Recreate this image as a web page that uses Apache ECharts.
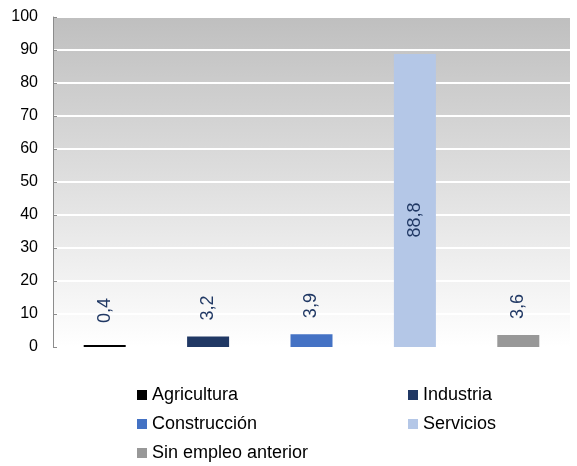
<!DOCTYPE html>
<html>
<head>
<meta charset="utf-8">
<script src="https://cdn.jsdelivr.net/npm/echarts@6/dist/echarts.min.js"></script>
<style>
  html, body { margin: 0; padding: 0; background: #fff; }
  #chart { width: 577px; height: 466px; }
</style>
</head>
<body>
<div id="chart"></div>
<script>
// Datos del gráfico
const sectores = ["Agricultura", "Industria", "Construcción", "Servicios", "Sin empleo anterior"];
const valores = [0.4, 3.2, 3.9, 88.8, 3.6];
const colores = ["#000000", "#203864", "#4472c4", "#b4c7e7", "#989898"];
const ticksY = [0, 10, 20, 30, 40, 50, 60, 70, 80, 90, 100];

const fuente = "'Liberation Sans', Arial, sans-serif";
const chart = echarts.init(document.getElementById("chart"));

// Etiqueta de cada barra (la de Servicios va dentro de la barra)
const etiqueta = (i) => {
    const base = {
        show: true,
        rotate: 90,
        color: "#203864",
        fontSize: 18,
        fontFamily: fuente,
        formatter: (p) => p.value.toFixed(1).replace(".", ","),
    };
    if (valores[i] > 50) {
        return { ...base, position: ["50%", 166], align: "center", verticalAlign: "middle" };
    }
    return { ...base, position: "top", distance: valores[i] < 1 ? 22 : 16, align: "left", verticalAlign: "middle" };
};

const series = sectores.map((nombre, i) => ({
    name: nombre,
    type: "bar",
    stack: "total",
    barWidth: 42,
    barMinHeight: 2,
    itemStyle: { color: colores[i] },
    label: etiqueta(i),
    data: valores.map((v, j) => (j === i ? v : "-")),
}));

// Dos columnas de leyenda
const leyenda = (datos, left) => ({
    data: datos,
    orient: "vertical",
    left: left,
    top: 386,
    height: 90,
    padding: 0,
    icon: "rect",
    itemWidth: 10,
    itemHeight: 10,
    itemGap: 11,
    selectedMode: false,
    textStyle: { fontSize: 18, fontFamily: fuente, color: "#000" },
});

chart.setOption({
    animation: false,
    grid: {
        left: 53, right: 7, top: 17, bottom: 119,
        show: true,
        borderWidth: 0,
        backgroundColor: new echarts.graphic.LinearGradient(0, 0, 0, 1, [
            { offset: 0, color: "#bfbfbf" },
            { offset: 1, color: "#ffffff" },
        ]),
    },
    legend: [
        leyenda([sectores[0], sectores[2], sectores[4]], 137),
        leyenda([sectores[1], sectores[3]], 408),
    ],
    xAxis: {
        type: "category",
        data: sectores,
        axisLine: { show: false },
        axisTick: { show: false },
        axisLabel: { show: false },
    },
    yAxis: {
        type: "value",
        min: ticksY[0],
        max: ticksY[ticksY.length - 1],
        interval: 10,
        axisLine: { show: true, lineStyle: { color: "#8c8c8c" } },
        axisTick: { show: true, inside: true, length: 4, lineStyle: { color: "#8c8c8c" } },
        axisLabel: { fontSize: 16, fontFamily: fuente, color: "#000", margin: 15 },
        splitLine: { show: true, lineStyle: { color: "#ffffff", width: 2 } },
    },
    series: series,
});
</script>
</body>
</html>
